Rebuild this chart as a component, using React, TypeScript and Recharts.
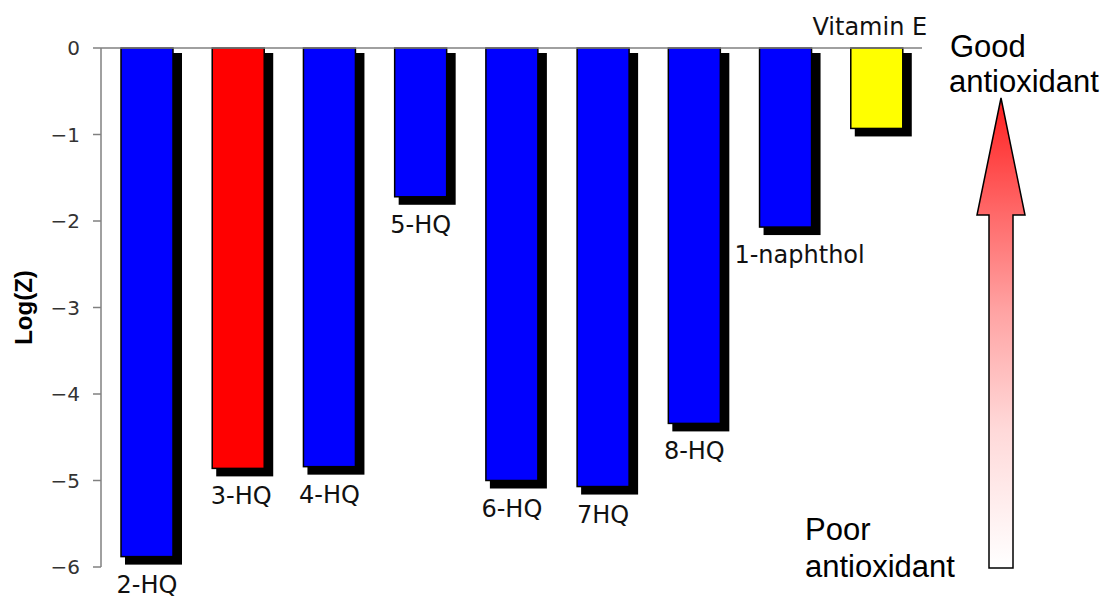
import { BarChart, Bar, XAxis, YAxis, ReferenceLine, LabelList } from "recharts"

const compounds = ["2-HQ", "3-HQ", "4-HQ", "5-HQ", "6-HQ", "7HQ", "8-HQ", "1-naphthol", "Vitamin E"]
const logZ = [-5.88, -4.86, -4.84, -1.72, -5.0, -5.07, -4.34, -2.07, -0.93]
const yTicks = [0, -1, -2, -3, -4, -5, -6]

// styling per bar, kept apart from the data
const barColors = ["#0000ff", "#ff0000", "#0000ff", "#0000ff", "#0000ff", "#0000ff", "#0000ff", "#0000ff", "#ffff00"]
const labelNudge: Record<string, number> = { "3-HQ": 3, "1-naphthol": 14, "Vitamin E": -7 }
const labelAbove = new Set(["Vitamin E"])

const data = compounds.map((name, i) => ({ name, value: logZ[i] }))

function ShadowBar(props: any) {
  const { x, y, width, height, index } = props
  const top = Math.min(y, y + height)
  const h = Math.abs(height)
  return (
    <g>
      <rect x={x + 4} y={top + 5} width={width + 5} height={h + 3} fill="#000" />
      <rect x={x} y={top} width={width} height={h} fill={barColors[index]} stroke="#000" strokeWidth={1.5} />
    </g>
  )
}

function BarLabel(props: any) {
  const vb = props.x !== undefined ? props : props.viewBox
  const { x, y, width, height } = vb
  const name = String(props.value)
  const top = Math.min(y, y + height)
  const bottom = Math.max(y, y + height)
  const cx = x + width / 2 + (labelNudge[name] ?? 0)
  const ty = labelAbove.has(name) ? top - 13 : bottom + 36
  return (
    <text x={cx} y={ty} textAnchor="middle" fontFamily="DejaVu Sans" fontSize={24} fill="#111">
      {name}
    </text>
  )
}

function Arrow() {
  const cx = 1001
  const tip = 98
  const headBase = 215
  const bottom = 568
  const pts = [
    [cx, tip],
    [cx + 24, headBase],
    [cx + 12, headBase],
    [cx + 12, bottom],
    [cx - 12, bottom],
    [cx - 12, headBase],
    [cx - 24, headBase],
  ]
    .map((p) => p.join(","))
    .join(" ")
  return (
    <svg width={1107} height={597} style={{ position: "absolute", left: 0, top: 0, pointerEvents: "none" }}>
      <defs>
        <linearGradient id="arrowGrad" x1="0" y1="0" x2="0" y2="1">
          <stop offset="0" stopColor="#ff2020" />
          <stop offset="0.25" stopColor="#ff6a6a" />
          <stop offset="0.45" stopColor="#ffa2a2" />
          <stop offset="0.7" stopColor="#ffd8d8" />
          <stop offset="1" stopColor="#ffffff" />
        </linearGradient>
      </defs>
      <polygon points={pts} fill="url(#arrowGrad)" stroke="#000" strokeWidth={1.5} />
      <g fontFamily="Liberation Sans" fontSize={31} fill="#000">
        <text x={950} y={57}>Good</text>
        <text x={949} y={92}>antioxidant</text>
        <text x={805} y={540}>Poor</text>
        <text x={805} y={577}>antioxidant</text>
      </g>
    </svg>
  )
}

export default function App() {
  return (
    <div style={{ position: "absolute", left: 0, top: 0, width: 1107, height: 597, background: "#fff" }}>
      <BarChart width={1107} height={597} data={data} margin={{ top: 48, right: 185, bottom: 30, left: 0 }}>
        <XAxis dataKey="name" hide />
        <YAxis
          width={101}
          domain={[-6, 0]}
          ticks={yTicks}
          interval={0}
          tickSize={8}
          tickMargin={13}
          axisLine={{ stroke: "#808080", strokeWidth: 1.5 }}
          tickLine={{ stroke: "#808080", strokeWidth: 1.5 }}
          tick={{ fontFamily: "DejaVu Sans", fontSize: 20, fill: "#333" }}
          tickFormatter={(v: number) => (v < 0 ? `\u2212${-v}` : `${v}`)}
          label={{
            value: "Log(Z)",
            angle: -90,
            position: "insideLeft",
            dx: 18,
            dy: 0,
            style: { fontFamily: "Liberation Sans", fontSize: 24, fontWeight: "bold", fill: "#000", textAnchor: "middle" },
          }}
        />
        <ReferenceLine y={0} stroke="#808080" strokeWidth={1.5} />
        <Bar dataKey="value" barSize={52} shape={ShadowBar} isAnimationActive={false}>
          <LabelList dataKey="name" content={BarLabel} />
        </Bar>
      </BarChart>
      <Arrow />
    </div>
  )
}
